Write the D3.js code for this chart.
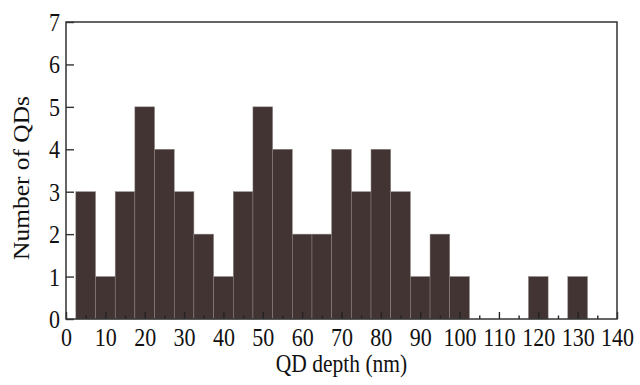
<!DOCTYPE html>
<html>
<head>
<meta charset="utf-8">
<script src="https://cdn.jsdelivr.net/npm/d3@7"></script>
<style>
  body { margin: 0; background: #fff; }
  svg { display: block; }
</style>
</head>
<body>
<div id="chart"></div>
<script>
// --- DATA ---
// histogram bins, 5 nm wide, starting at 2.5 nm
const binStarts = [2.5, 7.5, 12.5, 17.5, 22.5, 27.5, 32.5, 37.5, 42.5, 47.5, 52.5, 57.5, 62.5, 67.5,
                   72.5, 77.5, 82.5, 87.5, 92.5, 97.5, 102.5, 107.5, 112.5, 117.5, 122.5, 127.5, 132.5];
const counts    = [3, 1, 3, 5, 4, 3, 2, 1, 3, 5, 4, 2, 2, 4,
                   3, 4, 3, 1, 2, 1, 0, 0, 0, 1, 0, 1, 0];
const BIN_WIDTH = 5;
const xTicks = [0, 10, 20, 30, 40, 50, 60, 70, 80, 90, 100, 110, 120, 130, 140];
const yTicks = [0, 1, 2, 3, 4, 5, 6, 7];

// --- LAYOUT ---
const WIDTH = 640, HEIGHT = 385;
const MARGIN = { top: 22, right: 23, bottom: 66, left: 66 };
const FONT = "'Liberation Serif', 'Times New Roman', serif";
const STRETCH = 1.13; // glyphs in the source are a bit taller than wide

const svg = d3.select("#chart").append("svg")
    .attr("width", WIDTH)
    .attr("height", HEIGHT)
    .style("font-family", FONT);

const x = d3.scaleLinear().domain([0, 140]).range([MARGIN.left, WIDTH - MARGIN.right]);
const y = d3.scaleLinear().domain([0, 7]).range([HEIGHT - MARGIN.bottom, MARGIN.top]);

// bars
svg.append("g")
  .selectAll("rect")
  .data(binStarts.map((s, i) => ({ s, c: counts[i] })).filter(d => d.c > 0))
  .join("rect")
    .attr("x", d => x(d.s))
    .attr("width", d => x(d.s + BIN_WIDTH) - x(d.s))
    .attr("y", d => y(d.c))
    .attr("height", d => y(0) - y(d.c))
    .attr("fill", "#433434")
    .attr("stroke", "#8c8282")
    .attr("stroke-width", 0.5);

// bottom axis: inward ticks, major every 10, minor every 5
const minor = d3.range(5, 140, 10);
svg.append("g")
  .attr("transform", `translate(0,${y(0)})`)
  .call(d3.axisBottom(x).tickValues(minor).tickSize(-3.5).tickFormat(""))
  .call(g => g.select(".domain").remove())
  .selectAll("line").attr("stroke", "#222").attr("stroke-width", 1.4);

const xAxis = svg.append("g")
  .attr("transform", `translate(0,${y(0)})`)
  .call(d3.axisBottom(x).tickValues(xTicks).tickSize(-7).tickPadding(0).tickFormat(d3.format("d")));
xAxis.select(".domain").remove();
xAxis.selectAll("line").attr("stroke", "#222").attr("stroke-width", 1.4);
xAxis.selectAll("text")
  .attr("font-family", FONT)
  .attr("font-size", 22)
  .attr("fill", "#111")
  .attr("dy", null)
  .attr("y", 0)
  .attr("transform", `translate(0,27) scale(1,${STRETCH})`);

// left axis: inward ticks
const yAxis = svg.append("g")
  .attr("transform", `translate(${x(0)},0)`)
  .call(d3.axisLeft(y).tickValues(yTicks).tickSize(-8).tickPadding(0).tickFormat(d3.format("d")));
yAxis.select(".domain").remove();
yAxis.selectAll("line").attr("stroke", "#333").attr("stroke-width", 1.4);
yAxis.selectAll("text")
  .attr("font-family", FONT)
  .attr("font-size", 22)
  .attr("fill", "#111")
  .attr("x", 0)
  .attr("dy", null)
  .attr("dominant-baseline", "central")
  .attr("transform", `translate(-6,0) scale(1,${STRETCH})`);

// frame
svg.append("rect")
  .attr("x", x(0))
  .attr("y", y(7))
  .attr("width", x(140) - x(0))
  .attr("height", y(0) - y(7))
  .attr("fill", "none")
  .attr("stroke", "#333")
  .attr("stroke-width", 1.5);

// axis titles
svg.append("text")
  .attr("transform", `translate(${(x(0) + x(140)) / 2},371.5) scale(1,${STRETCH})`)
  .attr("text-anchor", "middle")
  .attr("font-size", 21.5)
  .attr("fill", "#111")
  .text("QD depth (nm)");

svg.append("text")
  .attr("transform", `translate(29,178) scale(1,${STRETCH}) rotate(-90)`)
  .attr("text-anchor", "middle")
  .attr("font-size", 22.5)
  .attr("fill", "#111")
  .text("Number of QDs");
</script>
</body>
</html>
